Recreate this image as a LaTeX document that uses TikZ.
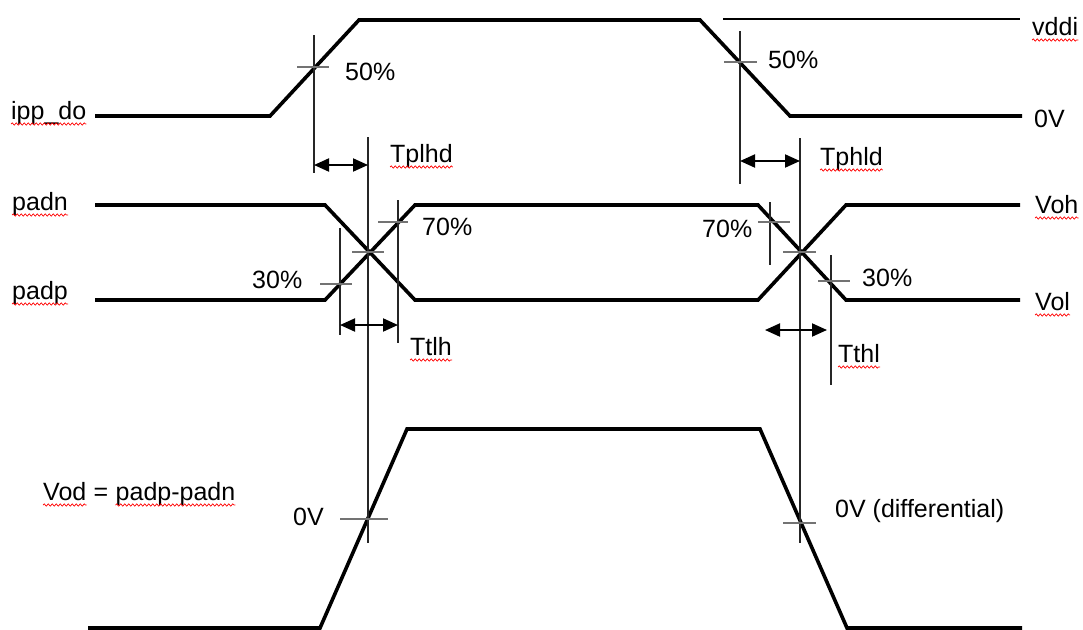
\documentclass[tikz,border=0pt]{standalone}
\usepackage{fontspec}
\setmainfont{Liberation Sans}
\usetikzlibrary{arrows.meta,decorations.pathmorphing}
\begin{document}
\begin{tikzpicture}[x=1pt,y=-1pt,
  wave/.style={line width=3.6pt, line join=miter},
  refline/.style={line width=1.3pt, black!85},
  tickline/.style={line width=1.3pt, black!55},
  dimarrow/.style={line width=2pt, {Triangle[length=15pt,width=13pt]}-{Triangle[length=15pt,width=13pt]}},
  lbl/.style={inner sep=0pt, anchor=base west, font=\fontsize{25}{30}\selectfont},
  spell/.style={red, line width=0.7pt, decorate, decoration={snake, amplitude=1.1pt, segment length=4pt}}]
\useasboundingbox (0,0) rectangle (1083,629);

% waveforms
\draw[wave] (95,116) -- (270,116) -- (359,20) -- (700,20) -- (790,116) -- (1022,116);
\draw[refline, black] (723,19) -- (1020,19);
\draw[wave] (95,205) -- (325,205) -- (415,300) -- (758,300) -- (846,205) -- (1020,205);
\draw[wave] (95,300) -- (325,300) -- (415,205) -- (758,205) -- (846,300) -- (1020,300);
\draw[wave] (88,628) -- (320,628) -- (407,429) -- (760,429) -- (847,628) -- (1022,628);

% reference verticals
\draw[refline] (314,35) -- (314,173);
\draw[refline] (368,137) -- (368,543);
\draw[refline] (740,31) -- (740,184);
\draw[refline] (800,138) -- (800,543);
\draw[refline] (398,200) -- (398,343);
\draw[refline] (340,228) -- (340,335);
\draw[refline] (770,202) -- (770,265);
\draw[refline] (831,255) -- (831,385);

% ticks
\draw[tickline] (297,67) -- (329,67);
\draw[tickline] (724,62) -- (757,62);
\draw[tickline] (378,222) -- (408,222);
\draw[tickline] (320,284) -- (352,284);
\draw[tickline] (352,252) -- (384,252);
\draw[tickline] (758,222) -- (790,222);
\draw[tickline] (783,252) -- (816,252);
\draw[tickline] (818,281) -- (850,281);
\draw[tickline] (340,519) -- (388,519);
\draw[tickline] (783,523) -- (816,523);

% dimension arrows
\coordinate (a1) at (314,165); \coordinate (b1) at (368,165);
\coordinate (a2) at (740,161); \coordinate (b2) at (800,161);
\coordinate (a3) at (340,325); \coordinate (b3) at (398,325);
\coordinate (a4) at (765,330); \coordinate (b4) at (827,330);
\draw[dimarrow] (a1) -- (b1);
\draw[dimarrow] (a2) -- (b2);
\draw[dimarrow] (a3) -- (b3);
\draw[dimarrow] (a4) -- (b4);

% labels
\node[lbl] (ipp) at (11,119) {ipp\_do};
\node[lbl] (p50l) at (345,80) {50\%};
\node[lbl] (vddi) at (1032,35) {vddi};
\node[lbl] (zv) at (1034,127) {0V};
\node[lbl] (p50r) at (768,68) {50\%};
\node[lbl] (tplhd) at (390,162) {Tplhd};
\node[lbl] (tphld) at (820,165) {Tphld};
\node[lbl] (padn) at (12,210) {padn};
\node[lbl] (padp) at (12,299) {padp};
\node[lbl] (p70l) at (422,235) {70\%};
\node[lbl] (p30l) at (252,288) {30\%};
\node[lbl] (ttlh) at (410,355) {Ttlh};
\node[lbl] (voh) at (1035,213) {Voh};
\node[lbl] (vol) at (1035,310) {Vol};
\node[lbl] (p70r) at (702,237) {70\%};
\node[lbl] (p30r) at (862,286) {30\%};
\node[lbl] (tthl) at (838,362) {Tthl};
\node[lbl] (vod1) at (43,500) {Vod};
\node[lbl] (vod2) at ([xshift=7pt]vod1.base east) {=};
\node[lbl] (vod3) at ([xshift=7pt]vod2.base east) {padp-padn};
\node[lbl] (zvl) at (293,525) {0V};
\node[lbl] (zvd) at (835,517) {0V (differential)};

% spell-check squiggles
\foreach \n in {ipp,vddi,tplhd,tphld,padn,padp,ttlh,voh,vol,tthl,vod1,vod3}{
  \draw[spell] ([yshift=-5pt]\n.base west) -- ([yshift=-5pt]\n.base east);
}
\end{tikzpicture}
\end{document}
